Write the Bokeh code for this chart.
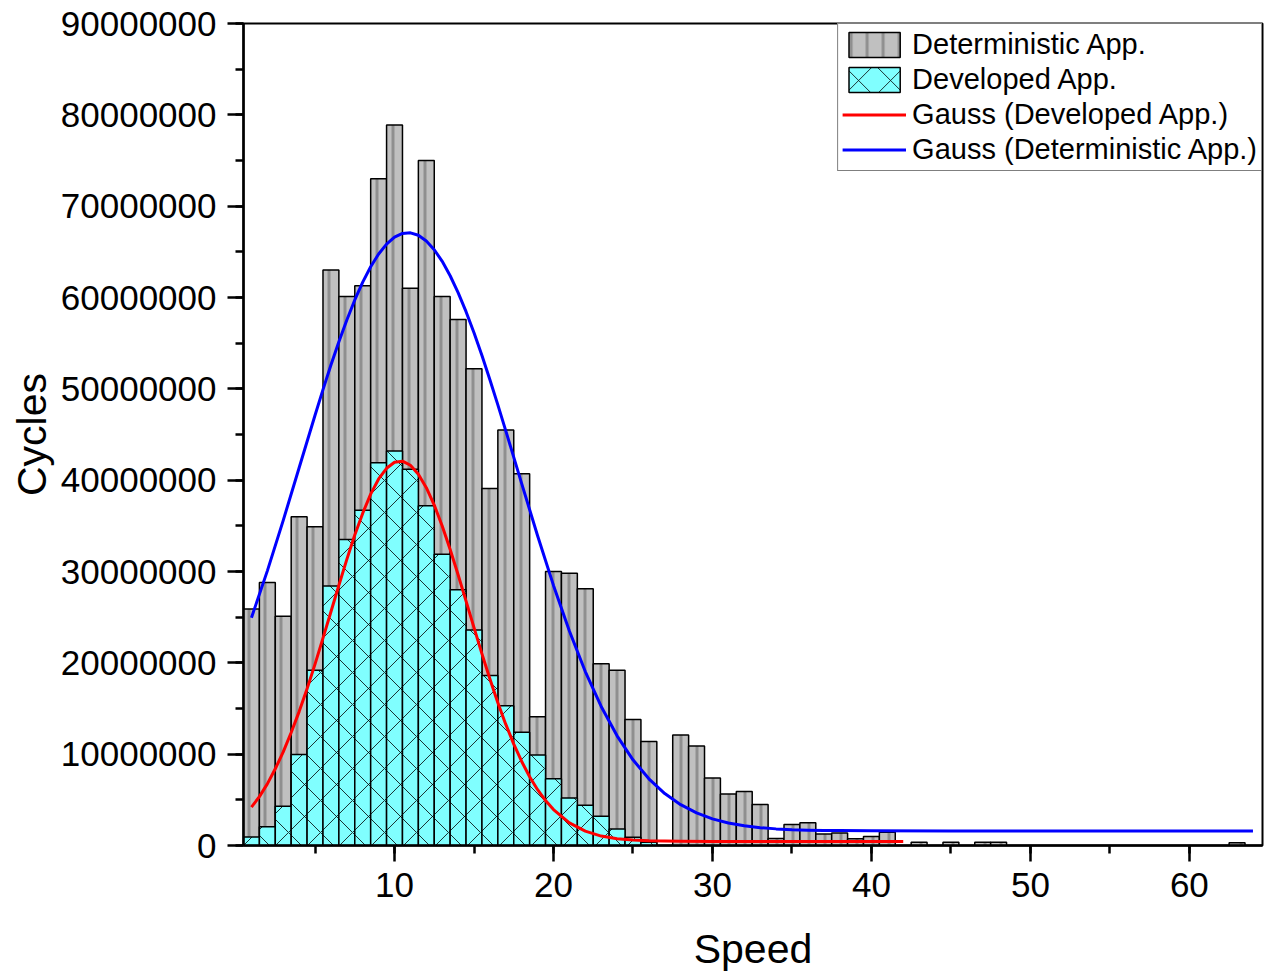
from bokeh.plotting import figure
from bokeh.models import (ColumnDataSource, Range1d, SingleIntervalTicker,
                          BasicTickFormatter, Legend, LegendItem)
from bokeh.embed import file_html
from bokeh.resources import INLINE

# ---------------- data (values in millions of cycles) ----------------
speed = list(range(1, 64))

deterministic = [
    25.9, 28.8, 25.1, 36.0, 34.9, 63.0, 60.1, 61.3, 73.0, 78.9,
    61.0, 75.0, 60.1, 57.6, 52.2, 39.1, 45.5, 40.7, 14.1, 30.0,
    29.8, 28.1, 19.9, 19.2, 13.8, 11.4, 0.0, 12.1, 10.9, 7.4,
    5.65, 5.9, 4.5, 0.77, 2.3, 2.5, 1.27, 1.38, 0.73, 0.98,
    1.46, 0.0, 0.35, 0.0, 0.35, 0.0, 0.35, 0.35, 0.0, 0.0,
    0.0, 0.0, 0.0, 0.0, 0.0, 0.0, 0.0, 0.0, 0.0, 0.0,
    0.0, 0.0, 0.3,
]

developed = [
    0.94, 2.04, 4.3, 9.96, 19.2, 28.4, 33.5, 36.7, 41.9, 43.2,
    41.2, 37.2, 31.9, 28.0, 23.6, 18.6, 15.3, 12.4, 9.9, 7.3,
    5.2, 4.4, 3.2, 1.8, 0.9, 0.35, 0.0, 0.0, 0.0, 0.0,
    0.0, 0.0, 0.0, 0.0, 0.0, 0.0, 0.0, 0.0, 0.0, 0.0,
    0.0, 0.0, 0.0, 0.0, 0.0, 0.0, 0.0, 0.0, 0.0, 0.0,
    0.0, 0.0, 0.0, 0.0, 0.0, 0.0, 0.0, 0.0, 0.0, 0.0,
    0.0, 0.0, 0.0,
]

# Gauss fit curve of the developed approach
gauss_dev_x = [1.0, 1.5, 2.0, 2.5, 3.0, 3.5, 4.0, 4.5, 5.0, 5.5,
               6.0, 6.5, 7.0, 7.5, 8.0, 8.5, 9.0, 9.5, 10.0, 10.5,
               11.0, 11.5, 12.0, 12.5, 13.0, 13.5, 14.0, 14.5, 15.0, 15.5,
               16.0, 16.5, 17.0, 17.5, 18.0, 18.5, 19.0, 19.5, 20.0, 21.0,
               22.0, 23.0, 24.0, 25.0, 26.0, 27.0, 28.0, 30.0, 35.0, 42.0]
gauss_dev_y = [4.20, 5.35, 6.75, 8.40, 10.25, 12.37, 14.66, 17.17, 19.86, 22.70,
               25.59, 28.50, 31.33, 33.99, 36.39, 38.47, 40.13, 41.30, 41.96, 42.08,
               41.63, 40.65, 39.18, 37.27, 34.99, 32.42, 29.65, 26.76, 23.85, 20.98,
               18.23, 15.64, 13.26, 11.10, 9.20, 7.53, 6.11, 4.92, 3.93, 2.47,
               1.57, 1.03, 0.74, 0.59, 0.51, 0.48, 0.46, 0.45, 0.45, 0.45]

# Gauss fit curve of the deterministic approach
gauss_det_x = [1, 2, 3, 4, 5, 5.5, 6, 6.5, 7, 7.5,
               8, 8.5, 9, 9.5, 10, 10.5, 11, 11.5, 12, 12.5,
               13, 13.5, 14, 14.5, 15, 15.5, 16, 16.5, 17, 18,
               19, 20, 21, 22, 23, 24, 25, 26, 27, 28,
               29, 30, 31, 32, 33, 34, 35, 36, 37, 38,
               40, 45, 64]
gauss_det_y = [24.94, 30.07, 35.60, 41.36, 47.11, 49.91, 52.60, 55.16, 57.54, 59.73,
               61.68, 63.36, 64.76, 65.84, 66.60, 67.01, 67.08, 66.81, 66.18, 65.23,
               63.96, 62.38, 60.54, 58.45, 56.14, 53.64, 50.99, 48.24, 45.40, 39.62,
               33.91, 28.48, 23.49, 19.05, 15.22, 12.01, 9.38, 7.30, 5.69, 4.47,
               3.57, 2.92, 2.47, 2.16, 1.95, 1.82, 1.73, 1.68, 1.65, 1.63,
               1.61, 1.60, 1.60]

x_label = "Speed"
y_label = "Cycles"
legend_labels = ["Deterministic App.", "Developed App.",
                 "Gauss (Developed App.)", "Gauss (Deterministic App.)"]

M = 1_000_000
FONT = "Liberation Sans"

# ---------------- sources ----------------
det_src = ColumnDataSource(dict(
    x=[s for s, v in zip(speed, deterministic) if v > 0],
    top=[v * M for v in deterministic if v > 0]))
dev_src = ColumnDataSource(dict(
    x=[s for s, v in zip(speed, developed) if v > 0],
    top=[v * M for v in developed if v > 0]))
gdev_src = ColumnDataSource(dict(x=gauss_dev_x, y=[v * M for v in gauss_dev_y]))
gdet_src = ColumnDataSource(dict(x=gauss_det_x, y=[v * M for v in gauss_det_y]))

# ---------------- figure ----------------
p = figure(width=1275, height=978,
           x_range=Range1d(0.5, 64.6), y_range=Range1d(0, 90 * M),
           output_backend="svg", toolbar_location=None,
           min_border_left=243, min_border_right=13,
           min_border_top=23, min_border_bottom=133)
p.background_fill_color = "white"
p.border_fill_color = "white"
p.xgrid.visible = False
p.ygrid.visible = False
p.outline_line_color = "black"
p.outline_line_width = 2
p.outline_line_alpha = 1

r_det = p.vbar(x="x", top="top", width=1, bottom=0, source=det_src,
               fill_color="#c0c0c0", line_color="black", line_width=1.5,
               hatch_pattern="vertical_line", hatch_color="#6e6e6e",
               hatch_weight=3, hatch_scale=16, hatch_alpha=0.6)
r_dev = p.vbar(x="x", top="top", width=1, bottom=0, source=dev_src,
               fill_color="#80ffff", line_color="black", line_width=1.5,
               hatch_pattern="diagonal_cross", hatch_color="black",
               hatch_weight=1, hatch_scale=32, hatch_alpha=0.8)
r_gdev = p.line(x="x", y="y", source=gdev_src, line_color="#ff0000",
                line_width=3, line_join="round")
r_gdet = p.line(x="x", y="y", source=gdet_src, line_color="#0000ff",
                line_width=3, line_join="round")

# ---------------- axes ----------------
p.xaxis.ticker = SingleIntervalTicker(interval=10, num_minor_ticks=2)
p.yaxis.ticker = SingleIntervalTicker(interval=10 * M, num_minor_ticks=2)
p.yaxis.formatter = BasicTickFormatter(use_scientific=False)
p.xaxis.axis_label = x_label
p.yaxis.axis_label = y_label
for ax in (p.xaxis[0], p.yaxis[0]):
    ax.axis_line_width = 2.5
    ax.axis_line_color = "black"
    ax.major_tick_line_width = 2.5
    ax.minor_tick_line_width = 2.5
    ax.major_tick_line_color = "black"
    ax.minor_tick_line_color = "black"
    ax.major_tick_out = 16
    ax.major_tick_in = 0
    ax.minor_tick_out = 8
    ax.minor_tick_in = 0
    ax.major_label_text_font = FONT
    ax.major_label_text_font_size = "35px"
    ax.major_label_text_color = "black"
    ax.axis_label_text_font = FONT
    ax.axis_label_text_font_size = "41px"
    ax.axis_label_text_font_style = "normal"
    ax.axis_label_text_color = "black"
p.xaxis.major_label_standoff = 11
p.yaxis.major_label_standoff = 11
p.xaxis.axis_label_standoff = 26
p.yaxis.axis_label_standoff = 3

# ---------------- legend ----------------
legend = Legend(items=[
    LegendItem(label=legend_labels[0], renderers=[r_det]),
    LegendItem(label=legend_labels[1], renderers=[r_dev]),
    LegendItem(label=legend_labels[2], renderers=[r_gdev]),
    LegendItem(label=legend_labels[3], renderers=[r_gdet]),
], location="top_right", margin=0, padding=4, spacing=2,
    glyph_width=64, glyph_height=31, label_standoff=6,
    label_text_font=FONT, label_text_font_size="29px",
    label_text_color="black",
    border_line_color="black", border_line_width=1.2,
    background_fill_color="white", background_fill_alpha=1)
p.add_layout(legend)

open("out.html", "w").write(file_html(p, INLINE))
